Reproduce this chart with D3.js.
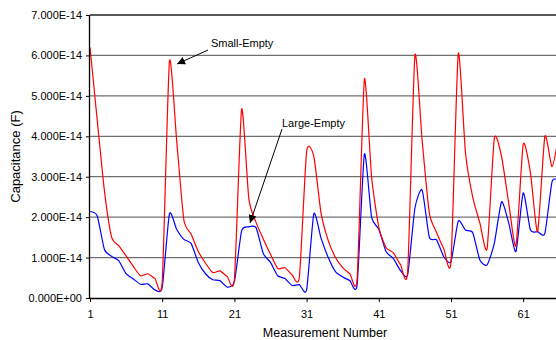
<!DOCTYPE html>
<html>
<head>
<meta charset="utf-8">
<script src="https://cdn.jsdelivr.net/npm/d3@7"></script>
<style>
    body { margin: 0; background: #fff; }
    svg { display: block; font-family: "Liberation Sans", Arial, sans-serif; }
</style>
</head>
<body>
<div id="chart"></div>
<script>
// measurement numbers 1..66 (last one falls past the right edge)
const measurements = d3.range(1, 67);

// capacitance in units of 1E-14 F
const smallEmpty = [
    6.2, 4.4, 2.65, 1.5, 1.29, 1.04, 0.78, 0.55, 0.6, 0.48,
    0.4, 5.85, 3.9, 1.93, 1.58, 1.15, 0.86, 0.63, 0.67, 0.53,
    0.46, 4.67, 2.45, 1.87, 1.46, 1.08, 0.73, 0.75, 0.57, 0.52,
    3.62, 3.5, 2.1, 1.42, 1.0, 0.75, 0.6, 0.48, 5.41, 3.0,
    1.75, 1.25, 1.12, 0.83, 0.66, 6.0, 3.9, 2.1, 1.62, 1.22,
    0.9, 6.04, 3.6, 2.5, 1.85, 1.22, 3.95, 3.5, 2.34, 1.29,
    3.8, 3.1, 1.64, 4.0, 3.25, 4.1
];

const largeEmpty = [
    2.14, 2.03, 1.2, 1.03, 0.92, 0.6, 0.47, 0.34, 0.35, 0.2,
    0.26, 2.08, 1.7, 1.45, 1.35, 0.88, 0.6, 0.45, 0.43, 0.27,
    0.41, 1.66, 1.76, 1.74, 1.1, 0.88, 0.55, 0.48, 0.31, 0.33,
    0.2, 2.08, 1.48, 1.0, 0.65, 0.52, 0.43, 0.33, 3.56, 2.0,
    1.7, 1.15, 0.98, 0.68, 0.58, 2.22, 2.67, 1.5, 1.44, 1.02,
    0.9, 1.9, 1.68, 1.62, 0.94, 0.82, 1.35, 2.38, 1.85, 1.15,
    2.6, 1.68, 1.64, 1.6, 2.88, 2.9
];

const xTicks = [1, 11, 21, 31, 41, 51, 61];
const yTicks = [0, 1, 2, 3, 4, 5, 6, 7];

const width = 556, height = 340;
const margin = { top: 15, right: 0, bottom: 42, left: 90 };
const plotBottom = height - margin.bottom;

const svg = d3.select('#chart')
    .append('svg')
    .attr('width', width)
    .attr('height', height);

const x = d3.scaleLinear()
    .domain([1, 66])
    .range([margin.left, margin.left + 65 * 7.22]);

const y = d3.scaleLinear()
    .domain([0, 7])
    .range([plotBottom, margin.top]);

const fmt = v => v === 0 ? '0.000E+00' : `${v.toFixed(3)}E-14`;

// gridlines
svg.append('g')
    .selectAll('line')
    .data(yTicks.filter(d => d > 0 && d < 7))
    .enter()
    .append('line')
    .attr('x1', margin.left)
    .attr('x2', width)
    .attr('y1', d => y(d))
    .attr('y2', d => y(d))
    .attr('stroke', '#707070')
    .attr('stroke-width', 1.3);

// top border
svg.append('line')
    .attr('x1', margin.left)
    .attr('x2', width)
    .attr('y1', y(7))
    .attr('y2', y(7))
    .attr('stroke', '#222')
    .attr('stroke-width', 1.3);

svg.append('clipPath')
    .attr('id', 'clip')
    .append('rect')
    .attr('x', margin.left)
    .attr('y', 0)
    .attr('width', width - margin.left)
    .attr('height', plotBottom);

// smoothed like the spreadsheet's lines, with softer overshoot
const line = d3.line()
    .x((d, i) => x(measurements[i]))
    .y(d => y(d))
    .curve(d3.curveCardinal.tension(0.4));

const lines = svg.append('g').attr('clip-path', 'url(#clip)');

lines.append('path')
    .datum(largeEmpty)
    .attr('fill', 'none')
    .attr('stroke', '#0000ff')
    .attr('stroke-width', 1.2)
    .attr('d', line);

lines.append('path')
    .datum(smallEmpty)
    .attr('fill', 'none')
    .attr('stroke', '#ff0000')
    .attr('stroke-width', 1.2)
    .attr('d', line);

// axes
const yAxis = svg.append('g')
    .attr('transform', `translate(${margin.left},0)`)
    .call(d3.axisLeft(y).tickValues(yTicks).tickSize(4).tickPadding(4).tickFormat(fmt));

const xAxis = svg.append('g')
    .attr('transform', `translate(0,${plotBottom})`)
    .call(d3.axisBottom(x).tickValues(xTicks).tickSize(4).tickPadding(8).tickFormat(d3.format('d')));

[yAxis, xAxis].forEach(g => {
    g.select('.domain').attr('stroke', '#000').attr('stroke-width', 1.3);
    g.selectAll('.tick line').attr('stroke', '#000');
    g.selectAll('text')
        .attr('fill', '#000')
        .style('font-family', '"Liberation Sans", Arial, sans-serif')
        .style('font-size', '11px');
});
xAxis.select('.domain').attr('d', `M${margin.left},0.5H${width}`);
yAxis.select('.domain').attr('d', `M-0.5,${y(0)}V${y(7)}`);

// axis titles
svg.append('text')
    .attr('x', 325)
    .attr('y', 337)
    .attr('text-anchor', 'middle')
    .style('font-size', '12.5px')
    .text('Measurement Number');

svg.append('text')
    .attr('transform', `translate(20,${(y(0) + y(7)) / 2}) rotate(-90)`)
    .attr('text-anchor', 'middle')
    .style('font-size', '13px')
    .text('Capacitance (F)');

// annotations
const defs = svg.append('defs');
defs.append('marker')
    .attr('id', 'arrow')
    .attr('viewBox', '0 0 10 10')
    .attr('refX', 10)
    .attr('refY', 5)
    .attr('markerWidth', 8)
    .attr('markerHeight', 8)
    .attr('markerUnits', 'userSpaceOnUse')
    .attr('orient', 'auto')
    .append('path')
    .attr('d', 'M0,0L10,5L0,10Z')
    .attr('fill', '#000');

svg.append('text')
    .attr('x', 211)
    .attr('y', 47)
    .style('font-size', '11px')
    .text('Small-Empty');

svg.append('line')
    .attr('x1', 208).attr('y1', 50)
    .attr('x2', 177).attr('y2', 64)
    .attr('stroke', '#000')
    .attr('marker-end', 'url(#arrow)');

svg.append('text')
    .attr('x', 282)
    .attr('y', 127)
    .style('font-size', '11px')
    .text('Large-Empty');

svg.append('line')
    .attr('x1', 282).attr('y1', 129)
    .attr('x2', 250).attr('y2', 223)
    .attr('stroke', '#000')
    .attr('marker-end', 'url(#arrow)');
</script>
</body>
</html>
